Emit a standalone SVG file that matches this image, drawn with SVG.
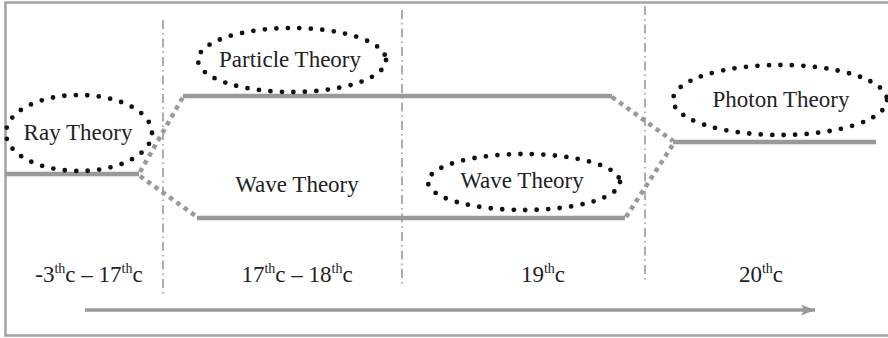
<svg xmlns="http://www.w3.org/2000/svg" width="888" height="338" viewBox="0 0 888 338">
<style>
.frame{fill:none;stroke:#a3a3a3;stroke-width:2.5}
.sep{stroke:#9a9a9a;stroke-width:1.6;stroke-dasharray:9 4 1.5 4;fill:none}
.era{stroke:#999;stroke-width:4.5;fill:none}
.trans{stroke:#9a9a9a;stroke-width:4.5;stroke-dasharray:4.5 4.5;fill:none}
.dots{fill:none;stroke:#111;stroke-width:4.8;stroke-linecap:round;stroke-dasharray:0 11.5}
text{font-family:"Liberation Serif","Times New Roman",serif;font-size:23px;fill:#222;text-anchor:middle}
.sup{font-size:14px}
.axis{stroke:#999;stroke-width:3.5;fill:none}
</style>
<defs>
<marker id="ah" markerUnits="userSpaceOnUse" markerWidth="16" markerHeight="14" refX="14" refY="7" orient="auto">
<path d="M0,1.5 L14,7 L0,12.5 L3,7 Z" fill="#999"/>
</marker>
</defs>
<rect class="frame" x="5.5" y="2.5" width="890" height="333"/>
<g id="separators">
<line class="sep" x1="163" y1="20" x2="163" y2="297"/>
<line class="sep" x1="402" y1="10" x2="402" y2="287"/>
<line class="sep" x1="645" y1="6" x2="645" y2="282"/>
</g>
<g id="connectors">
<line class="era" x1="5" y1="174" x2="139" y2="174"/>
<line class="era" x1="183" y1="96" x2="612" y2="96"/>
<line class="era" x1="197" y1="218" x2="625" y2="218"/>
<line class="era" x1="673" y1="142" x2="876" y2="142"/>
<path class="trans" d="M140,172 L183,97"/>
<path class="trans" d="M140,176 L197,217"/>
<path class="trans" d="M612,97 L673,141"/>
<path class="trans" d="M626,217 L674,143"/>
<line class="axis" x1="85" y1="310" x2="815" y2="310" marker-end="url(#ah)"/>
</g>
<g id="ray-theory">
<ellipse class="dots" cx="79" cy="133" rx="73" ry="38"/>
<text x="78" y="140">Ray Theory</text>
</g>
<g id="particle-theory">
<ellipse class="dots" cx="292" cy="60" rx="94" ry="32"/>
<text x="290" y="67">Particle Theory</text>
</g>
<g id="wave-theory-1">
<text x="297" y="192">Wave Theory</text>
</g>
<g id="wave-theory-2">
<ellipse class="dots" cx="524" cy="182" rx="96" ry="28"/>
<text x="522" y="188">Wave Theory</text>
</g>
<g id="photon-theory">
<ellipse class="dots" cx="780" cy="100" rx="107" ry="35"/>
<text x="781" y="107">Photon Theory</text>
</g>
<g id="dates">
<text x="89" y="282">-3<tspan class="sup" dy="-9">th</tspan><tspan dy="9">c – 17</tspan><tspan class="sup" dy="-9">th</tspan><tspan dy="9">c</tspan></text>
<text x="297" y="282">17<tspan class="sup" dy="-9">th</tspan><tspan dy="9">c – 18</tspan><tspan class="sup" dy="-9">th</tspan><tspan dy="9">c</tspan></text>
<text x="543" y="282">19<tspan class="sup" dy="-9">th</tspan><tspan dy="9">c</tspan></text>
<text x="761" y="282">20<tspan class="sup" dy="-9">th</tspan><tspan dy="9">c</tspan></text>
</g>
</svg>
